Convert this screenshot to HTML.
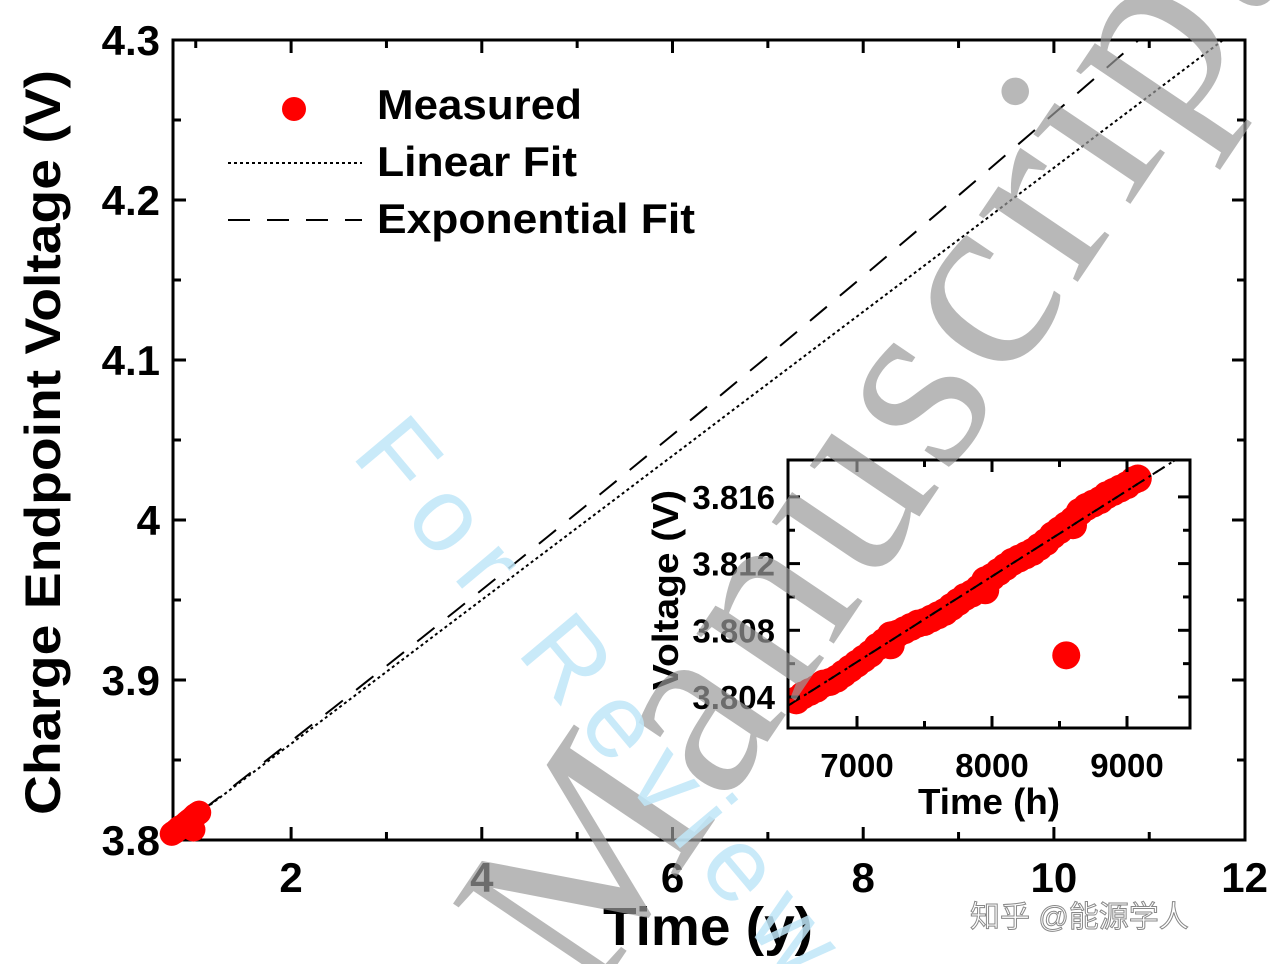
<!DOCTYPE html>
<html><head><meta charset="utf-8"><style>
html,body{margin:0;padding:0;background:#fff;width:1277px;height:964px;overflow:hidden;}
svg{display:block;overflow:hidden;font-family:"Liberation Sans",Arial,sans-serif;font-weight:bold;}
</style></head><body>
<svg id="chart" width="1277" height="964" viewBox="0 0 1277 964" xmlns="http://www.w3.org/2000/svg">
<defs>
<clipPath id="mainClip"><rect x="173" y="40" width="1072" height="800"/></clipPath>
<clipPath id="insetClip"><rect x="788" y="460" width="402" height="268"/></clipPath>
<clipPath id="pageClip"><rect x="0" y="0" width="1277" height="964"/></clipPath>
</defs>
<g id="main"></g>
<g id="inset"></g>
<g id="legend">
 <circle cx="294" cy="109" r="12" fill="#f00"/>
 <text x="377" y="119" font-size="42" textLength="205" lengthAdjust="spacingAndGlyphs">Measured</text>
 <line x1="228" y1="163" x2="362" y2="163" stroke="#000" stroke-width="2" stroke-dasharray="3,3"/>
 <text x="377" y="176" font-size="42" textLength="200" lengthAdjust="spacingAndGlyphs">Linear Fit</text>
 <line x1="228" y1="220" x2="362" y2="220" stroke="#000" stroke-width="2" stroke-dasharray="22,17"/>
 <text x="377" y="233" font-size="42" textLength="318" lengthAdjust="spacingAndGlyphs">Exponential Fit</text>
</g>
<text x="603" y="945" font-size="54" textLength="210" lengthAdjust="spacingAndGlyphs">Time (y)</text>
<text transform="translate(60,815) rotate(-90)" font-size="50" textLength="745" lengthAdjust="spacingAndGlyphs">Charge Endpoint Voltage (V)</text>
<g id="wm" clip-path="url(#pageClip)">
 <text transform="translate(590,1005) rotate(-56)" font-family="'Liberation Serif',serif" font-weight="normal" font-size="260" fill="#9a9a9a" fill-opacity="0.7" textLength="1250">Manuscript</text>
 <text transform="translate(350,455) rotate(50)" font-family="'Liberation Sans',sans-serif" font-weight="normal" font-size="105" fill="#bfe6f8" fill-opacity="0.85" textLength="690">For Review</text>
 <text x="970" y="927" font-family="'Liberation Sans','Noto Sans CJK SC',sans-serif" font-weight="normal" font-size="30" fill="#fff" stroke="#888" stroke-width="1">知乎 @能源学人</text>
</g>
</svg>
<script>
// Measured data (hours, volts)
const hours = [6550,6600,6650,6700,6750,6800,6850,6900,6950,7000,7050,7100,7150,7200,7250,7250,7300,7350,7400,7450,7500,7550,7600,7650,7700,7750,7800,7850,7900,7950,7950,8000,8050,8100,8150,8200,8250,8300,8350,8400,8450,8500,8550,8600,8600,8650,8700,8750,8800,8850,8900,8950,9000,9050,9080,8550];
const volts = [3.8038,3.8041,3.8043,3.8045,3.8048,3.8049,3.8051,3.8054,3.8057,3.8060,3.8063,3.8066,3.8070,3.8073,3.8071,3.8077,3.8078,3.8080,3.8082,3.8084,3.8085,3.8087,3.8089,3.8091,3.8094,3.8097,3.8100,3.8102,3.8105,3.8104,3.8110,3.8112,3.8115,3.8118,3.8121,3.8123,3.8125,3.8127,3.8130,3.8133,3.8137,3.8140,3.8143,3.8146,3.8143,3.8151,3.8154,3.8156,3.8158,3.8161,3.8163,3.8165,3.8167,3.8170,3.8171,3.8065];
// Fit parameters
const fitStart = [0.748, 3.8038];
const linearSlope = [0.045];
const expRate = [0.01209];
// Ticks
const mainXTicks = [2,4,6,8,10,12];
const mainYTicks = [3.8,3.9,4.0,4.1,4.2,4.3];
const mainYLabels = ["3.8","3.9","4","4.1","4.2","4.3"];
const insetXTicks = [7000,8000,9000];
const insetYTicks = [3.804,3.808,3.812,3.816];

const NS="http://www.w3.org/2000/svg";
function mk(tag,attrs,parent){const e=document.createElementNS(NS,tag);for(const k in attrs)e.setAttribute(k,attrs[k]);parent.appendChild(e);return e;}
const main=document.getElementById('main'), inset=document.getElementById('inset');
const MX=t=>100.4+95.35*t, MY=v=>840-(v-3.8)*1600;
const IX=h=>857+(h-7000)*0.135, IY=v=>697-(v-3.804)*16675;
const linF=t=>fitStart[1]+linearSlope[0]*(t-fitStart[0]);
const expF=t=>fitStart[1]*Math.exp(expRate[0]*(t-fitStart[0]));

let fr=mk('rect',{x:173,y:40,width:1072,height:800,fill:'none',stroke:'#000','stroke-width':3},main);


for(let t=1;t<=12;t++){const x=MX(t);if(x<175||x>1243)continue;const L=(t%2==0)?13:8;
 mk('line',{x1:x,y1:840,x2:x,y2:840-L,stroke:'#000','stroke-width':3},main);
 mk('line',{x1:x,y1:40,x2:x,y2:40+L,stroke:'#000','stroke-width':3},main);}
for(let i=0;i<=10;i++){const v=3.8+i*0.05;const y=MY(v);const L=(i%2==0)?13:8;
 mk('line',{x1:173,y1:y,x2:173+L,y2:y,stroke:'#000','stroke-width':3},main);
 mk('line',{x1:1245,y1:y,x2:1245-L,y2:y,stroke:'#000','stroke-width':3},main);}
mainXTicks.forEach(t=>{const e=mk('text',{x:MX(t),y:892,'font-size':42,'text-anchor':'middle'},main);e.textContent=String(t);
 
 });
mainYTicks.forEach((v,i)=>{const e=mk('text',{x:160,y:MY(v)+15,'font-size':42,'text-anchor':'end'},main);e.textContent=mainYLabels[i];
 
 });
function fitPath(f,X,Y,t0,t1){let d='';for(let k=0;k<=60;k++){const t=t0+(t1-t0)*k/60;d+=(k?'L':'M')+X(t).toFixed(1)+','+Y(f(t)).toFixed(1);}return d;}
const gm=mk('g',{'clip-path':'url(#mainClip)'},main);
let lp=mk('path',{d:fitPath(linF,MX,MY,0.748,12),fill:'none',stroke:'#000','stroke-width':2,'stroke-dasharray':'3,3'},gm);


let ep=mk('path',{d:fitPath(expF,MX,MY,0.748,12),fill:'none',stroke:'#000','stroke-width':2,'stroke-dasharray':'22,17'},gm);


const gmp=mk('g',{},main);
hours.forEach((h,i)=>{const c=mk('circle',{cx:MX(h/8760),cy:MY(volts[i]),r:12,fill:'#f00'},gmp);
 
 });

mk('rect',{x:788,y:460,width:402,height:268,fill:'#fff',stroke:'none'},inset);
const gi=mk('g',{'clip-path':'url(#insetClip)'},inset);
hours.forEach((h,i)=>{const c=mk('circle',{cx:IX(h),cy:IY(volts[i]),r:14,fill:'#f00'},gi);
 
 });
const IXt=t=>IX(t*8760);
let il=mk('path',{d:fitPath(linF,IXt,IY,0.72,1.1),fill:'none',stroke:'#000','stroke-width':2,'stroke-dasharray':'3,5'},gi);


let ie=mk('path',{d:fitPath(linF,IXt,IY,0.72,1.1),fill:'none',stroke:'#000','stroke-width':2,'stroke-dasharray':'14,10','stroke-dashoffset':'-5'},gi);


let ifr=mk('rect',{x:788,y:460,width:402,height:268,fill:'none',stroke:'#000','stroke-width':3},inset);


for(let h=6500;h<=9500;h+=500){const x=IX(h);if(x<790||x>1188)continue;const L=(h%1000==0)?12:7;
 mk('line',{x1:x,y1:728,x2:x,y2:728-L,stroke:'#000','stroke-width':3},inset);
 mk('line',{x1:x,y1:460,x2:x,y2:460+L,stroke:'#000','stroke-width':3},inset);}
for(let i=0;i<=7;i++){const v=3.802+i*0.002;const y=IY(v);if(y<462||y>726)continue;const L=(i%2==1)?12:7;
 mk('line',{x1:788,y1:y,x2:788+L,y2:y,stroke:'#000','stroke-width':3},inset);
 mk('line',{x1:1190,y1:y,x2:1190-L,y2:y,stroke:'#000','stroke-width':3},inset);}
insetXTicks.forEach(h=>{const e=mk('text',{x:IX(h),y:777,'font-size':33,'text-anchor':'middle'},inset);e.textContent=String(h);
 
 });
insetYTicks.forEach(v=>{const e=mk('text',{x:775,y:IY(v)+12,'font-size':33,'text-anchor':'end'},inset);e.textContent=v.toFixed(3);
 
 });
let ixt=mk('text',{x:918,y:814,'font-size':36,textLength:142,lengthAdjust:'spacingAndGlyphs'},inset);ixt.textContent='Time (h)';


let iyt=mk('text',{transform:'translate(678,690) rotate(-90)','font-size':36,textLength:200,lengthAdjust:'spacingAndGlyphs'},inset);iyt.textContent='Voltage (V)';


</script>
</body></html>
